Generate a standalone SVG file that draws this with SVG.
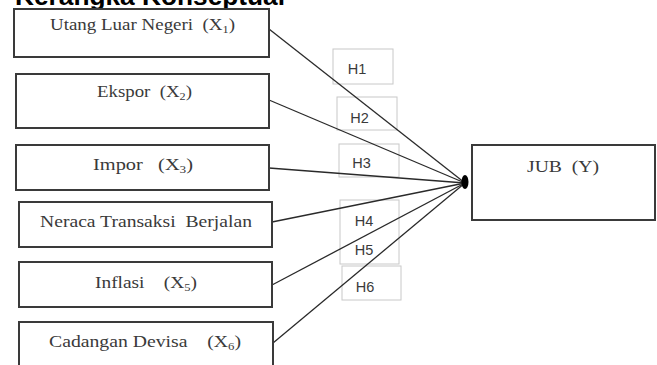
<svg xmlns="http://www.w3.org/2000/svg" width="657" height="365" viewBox="0 0 657 365">
<style>
.box{fill:#fff;stroke:#3a3a3a;stroke-width:2}
.hbox{fill:#fff;stroke:#c8c8c8;stroke-width:1}
.t{font-family:"Liberation Serif",serif;font-size:17px;fill:#3a3a3a;white-space:pre}
.s{font-size:11px}
.h{font-family:"Liberation Sans",Arial,sans-serif;font-size:14.5px;fill:#3a3a3a;text-anchor:middle}
.c{stroke:#2a2a2a;stroke-width:1.3;fill:none}
.title{font-family:"Liberation Sans",Arial,sans-serif;font-size:26px;font-weight:bold;fill:#000}
</style>
<rect width="657" height="365" fill="#fff"/>
<text class="title" x="15" y="5" textLength="270" lengthAdjust="spacingAndGlyphs">Kerangka Konseptual</text>
<g id="hypotheses">
<g id="h1"><rect class="hbox" x="333" y="49" width="60" height="35"/><text class="h" x="357" y="74">H1</text></g>
<g id="h2"><rect class="hbox" x="337" y="97" width="60" height="33"/><text class="h" x="359.5" y="123">H2</text></g>
<g id="h3"><rect class="hbox" x="339" y="144" width="60" height="33"/><text class="h" x="361.5" y="168">H3</text></g>
<g id="h45"><rect class="hbox" x="340" y="200" width="59" height="64"/><text class="h" x="364" y="226">H4</text><text class="h" x="364" y="255">H5</text></g>
<g id="h6"><rect class="hbox" x="342" y="266" width="59" height="34"/><text class="h" x="365" y="292">H6</text></g>
</g>
<g id="connectors">
<line class="c" x1="269" y1="29" x2="465" y2="183"/>
<line class="c" x1="269" y1="100" x2="465" y2="183"/>
<line class="c" x1="269" y1="168" x2="465" y2="183"/>
<line class="c" x1="272" y1="222" x2="465" y2="183"/>
<line class="c" x1="272" y1="285" x2="465" y2="183"/>
<line class="c" x1="273" y1="343" x2="465" y2="183"/>
<ellipse cx="465" cy="182" rx="3.5" ry="7" fill="#000"/>
</g>
<g id="x1"><rect class="box" x="14" y="9" width="255" height="48"/><text class="t" x="50" y="30" textLength="185" lengthAdjust="spacingAndGlyphs">Utang Luar Negeri  (X<tspan class="s" dy="3">1</tspan><tspan dy="-3">)</tspan></text></g>
<g id="x2"><rect class="box" x="16" y="74" width="253" height="54"/><text class="t" x="97" y="97" textLength="95" lengthAdjust="spacingAndGlyphs">Ekspor  (X<tspan class="s" dy="3">2</tspan><tspan dy="-3">)</tspan></text></g>
<g id="x3"><rect class="box" x="16" y="145" width="253" height="45"/><text class="t" x="93" y="170" textLength="100" lengthAdjust="spacingAndGlyphs">Impor   (X<tspan class="s" dy="3">3</tspan><tspan dy="-3">)</tspan></text></g>
<g id="x4"><rect class="box" x="19" y="202" width="253" height="45"/><text class="t" x="40" y="227" textLength="212" lengthAdjust="spacingAndGlyphs">Neraca Transaksi  Berjalan</text></g>
<g id="x5"><rect class="box" x="19" y="262" width="253" height="45"/><text class="t" x="95" y="288" textLength="102" lengthAdjust="spacingAndGlyphs">Inflasi    (X<tspan class="s" dy="3">5</tspan><tspan dy="-3">)</tspan></text></g>
<g id="x6"><rect class="box" x="19" y="322" width="254" height="50"/><text class="t" x="49" y="347" textLength="192" lengthAdjust="spacingAndGlyphs">Cadangan Devisa    (X<tspan class="s" dy="3">6</tspan><tspan dy="-3">)</tspan></text></g>
<g id="y"><rect class="box" x="472" y="145" width="183" height="75"/><text class="t" x="527" y="172" textLength="72" lengthAdjust="spacingAndGlyphs">JUB  (Y)</text></g>
</svg>
